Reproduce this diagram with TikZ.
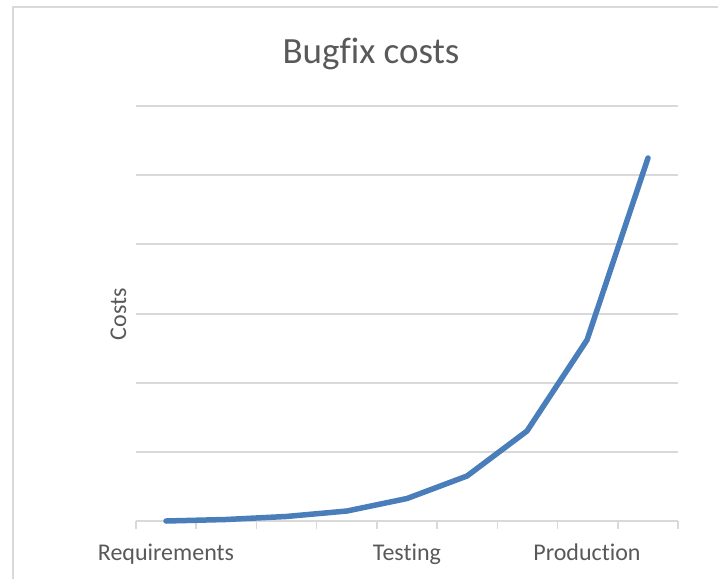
\documentclass[tikz,border=0pt]{standalone}
\usepackage{fontspec}
\setmainfont{Carlito}[Ligatures=CommonOff]
\definecolor{gridc}{HTML}{D9D9D9}
\definecolor{textc}{HTML}{595959}
\definecolor{seriesc}{HTML}{4A7EBB}
\begin{document}
\begin{tikzpicture}[x=1pt,y=-1pt,
  gridline/.style={draw=gridc,line width=1.3pt},
  axisline/.style={draw=gridc,line width=1.5pt},
  series/.style={draw=seriesc,line width=5.5pt,line cap=round,line join=round},
  catlabel/.style={text=textc,font=\fontsize{24}{28}\selectfont,anchor=base,inner sep=0pt},
  titlelabel/.style={text=textc,font=\fontsize{37}{44}\selectfont,anchor=base,inner sep=0pt}]
  \useasboundingbox (0,0) rectangle (718,579);
  % chart area frame
  \draw[draw=gridc,line width=1.5pt] (13,579) -- (13,7) -- (718,7);
  % horizontal gridlines
  \foreach \y in {106,175,244,314,383,452}
    \draw[gridline] (136,\y) -- (678,\y);
  % category axis and tick marks
  \draw[axisline] (136,521) -- (678,521);
  \foreach \i in {0,...,9}
    \draw[axisline] ({136+\i*60.22},521) -- ({136+\i*60.22},529);
  % title and axis labels
  \node[titlelabel] (title) at (371,63) {Bugfix costs};
  \node[text=textc,font=\fontsize{24}{28}\selectfont,rotate=90,anchor=base,inner sep=0pt] (ylab) at (126,314) {Costs};
  \node[catlabel] (req) at (166,560) {Requirements};
  \node[catlabel] (test) at (407,560) {Testing};
  \node[catlabel] (prod) at (587,560) {Production};
  % data series
  \draw[series] (166,521) -- (226,519.5) -- (286,516.5) -- (347,511) -- (407,498.5)
    -- (467,476) -- (527,431) -- (587,340) -- (648,158);
\end{tikzpicture}
\end{document}
